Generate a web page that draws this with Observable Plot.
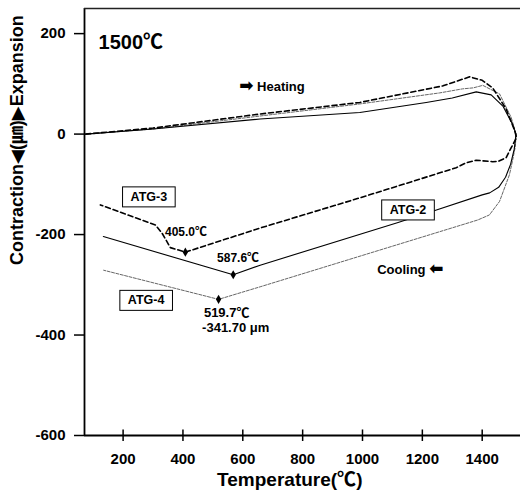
<!DOCTYPE html>
<html>
<head>
<meta charset="utf-8">
<script src="https://cdn.jsdelivr.net/npm/d3@7"></script>
<script src="https://cdn.jsdelivr.net/npm/@observablehq/plot@0.6"></script>
<style>
  html, body { margin: 0; padding: 0; background: #fff; }
  svg { display: block; }
</style>
</head>
<body>
<div id="chart"></div>
<script>
// ---- data ----
const xTicks = [200, 400, 600, 800, 1000, 1200, 1400];
const yTicks = [-600, -400, -200, 0, 200];

// ATG-2 (solid) : heating then cooling
const atg2Temp = [75, 300, 658, 991, 1213, 1300, 1380, 1430, 1470, 1501, 1513, 1507, 1495, 1478, 1455, 1425, 1400, 1247, 1119, 658, 568, 134];
const atg2Val  = [0, 10, 30, 43, 63, 72, 84, 78, 55, 20, 0, -30, -60, -86, -106, -117, -121, -151, -176, -261, -280, -204];

// ATG-3 (dashed)
const atg3Temp = [75, 300, 658, 991, 1269, 1358, 1400, 1435, 1480, 1508, 1515, 1497, 1480, 1455, 1435, 1380, 1347, 1313, 991, 658, 408, 358, 330, 308, 285, 124];
const atg3Val  = [0, 12, 40, 63, 96, 114, 107, 92, 50, 8, -7, -27, -47, -54, -55, -52, -57, -67, -127, -187, -235, -226, -197, -181, -176, -141];

// ATG-4 (thin grey)
const atg4Temp = [75, 300, 658, 991, 1258, 1334, 1370, 1402, 1458, 1497, 1513, 1511, 1501, 1491, 1458, 1424, 1385, 1358, 658, 519, 135];
const atg4Val  = [0, 10, 36, 60, 82, 90, 92, 97, 80, 33, 0, -24, -54, -81, -134, -161, -171, -176, -304, -329, -271];

// minima markers
const minTemp = [408, 568, 519];
const minVal  = [-235, -280, -329];

const toRows = (ts, vs) => ts.map((t, i) => ({t, v: vs[i]}));
const atg2 = toRows(atg2Temp, atg2Val);
const atg3 = toRows(atg3Temp, atg3Val);
const atg4 = toRows(atg4Temp, atg4Val);
const mins = toRows(minTemp, minVal);

const font = "'Liberation Sans', Arial, 'DejaVu Sans', 'Noto Sans CJK SC', sans-serif";
const cjk = "'Noto Sans CJK SC', 'Noto Sans CJK JP', sans-serif";

const chart = Plot.plot({
  width: 522,
  height: 498,
  marginLeft: 84,
  marginRight: 2,
  marginTop: 8,
  marginBottom: 63,
  style: {fontFamily: font, fontWeight: "bold", background: "#fff", color: "#000"},
  x: {domain: [71, 1528]},
  y: {domain: [-600, 250]},
  marks: [
    Plot.axisX({ticks: xTicks, tickFormat: d => String(d), tickSize: 6, tickPadding: 12, fontSize: 15, label: null, strokeWidth: 1.5}),
    Plot.axisY({ticks: yTicks, tickFormat: d => String(d), tickSize: 10, tickPadding: 9, fontSize: 15, label: null, strokeWidth: 1.5}),
    Plot.ruleX(xTicks, {y1: -600, y2: -589, stroke: "#000", strokeWidth: 1.5}),
    Plot.ruleX([71], {stroke: "#000", strokeWidth: 1.8}),
    Plot.ruleY([-600], {stroke: "#000", strokeWidth: 1.8}),
    Plot.ruleY([250], {stroke: "#222", strokeWidth: 1.5}),
    Plot.line(atg4, {x: "t", y: "v", stroke: "#555", strokeWidth: 0.9, strokeDasharray: "3,1.5"}),
    Plot.line(atg2, {x: "t", y: "v", stroke: "#000", strokeWidth: 1.1}),
    Plot.line(atg3, {x: "t", y: "v", stroke: "#000", strokeWidth: 1.6, strokeDasharray: "5,3"}),
    Plot.dot(mins, {x: "t", y: "v", symbol: "diamond", r: 2.8, fill: "#000", stroke: "none"}),
    // annotations
    Plot.text(["1500℃"], {x: 118, y: 182, text: d => d, textAnchor: "start", fontSize: 20, fontWeight: "bold"}),
    Plot.text(["➡ Heating"], {x: 588, y: 95, text: d => d, textAnchor: "start", fontSize: 13, fontWeight: "bold"}),
    Plot.text(["Cooling ⬅"], {x: 1049, y: -271, text: d => d, textAnchor: "start", fontSize: 13, fontWeight: "bold"}),
    Plot.text(["405.0℃"], {x: 340, y: -196, text: d => d, textAnchor: "start", fontSize: 12, fontWeight: "bold"}),
    Plot.text(["587.6℃"], {x: 514, y: -246, text: d => d, textAnchor: "start", fontSize: 12, fontWeight: "bold"}),
    Plot.text(["519.7℃"], {x: 470, y: -355, text: d => d, textAnchor: "start", fontSize: 13, fontWeight: "bold"}),
    Plot.text(["-341.70 μm"], {x: 464, y: -385, text: d => d, textAnchor: "start", fontSize: 13, fontWeight: "bold"}),
    Plot.text(["ATG-3"], {x: 286, y: -125, text: d => d, fontSize: 12.5, fontWeight: "bold"}),
    Plot.text(["ATG-2"], {x: 1152, y: -151, text: d => d, fontSize: 12.5, fontWeight: "bold"}),
    Plot.text(["ATG-4"], {x: 277, y: -331, text: d => d, fontSize: 12.5, fontWeight: "bold"}),
    // axis titles
    Plot.text(["Temperature(℃)"], {frameAnchor: "bottom", dy: 50, text: d => d, fontSize: 19, fontWeight: "bold", x: 757}),
    Plot.text(["Contraction◀(㎛)▶Expansion"], {frameAnchor: "left", dx: -67, y: -12, textAnchor: "middle", text: d => d, rotate: -90, fontSize: 18, fontWeight: "bold"})
  ]
});

document.getElementById("chart").append(chart);

// special glyphs: CJK font for ℃ and ㎛, larger arrows
const special = /([℃㎛➡⬅])/;
d3.select(chart).selectAll("text").each(function() {
  const s = this.textContent;
  if (special.test(s) && this.children.length === 0) {
    const parts = s.split(special).filter(p => p.length);
    this.textContent = "";
    for (const p of parts) {
      const ts = document.createElementNS("http://www.w3.org/2000/svg", "tspan");
      ts.textContent = p;
      if (/[℃㎛]/.test(p)) ts.setAttribute("font-family", cjk);
      if (/[➡⬅]/.test(p)) { ts.setAttribute("font-size", "17"); ts.setAttribute("font-family", "'DejaVu Sans', sans-serif"); }
      this.appendChild(ts);
    }
  }
});

// draw boxes round the series labels
d3.select(chart).selectAll("text").each(function() {
  if (/^ATG-/.test(this.textContent)) {
    const b = this.getBBox();
    const padX = 8, padY = 3;
    const r = document.createElementNS("http://www.w3.org/2000/svg", "rect");
    r.setAttribute("x", b.x - padX);
    r.setAttribute("y", b.y - padY);
    r.setAttribute("width", b.width + 2 * padX);
    r.setAttribute("height", b.height + 2 * padY);
    r.setAttribute("fill", "#fff");
    r.setAttribute("stroke", "#000");
    r.setAttribute("stroke-width", "1");
    const tf = this.getAttribute("transform");
    if (tf) r.setAttribute("transform", tf);
    this.parentNode.insertBefore(r, this);
  }
});
</script>
</body>
</html>
